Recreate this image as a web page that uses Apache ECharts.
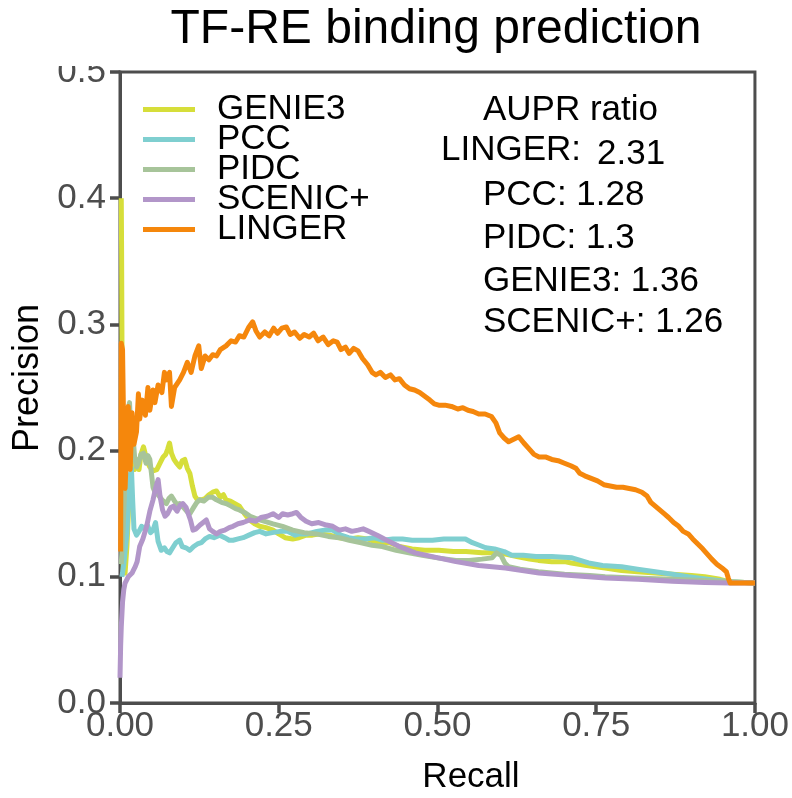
<!DOCTYPE html>
<html>
<head>
<meta charset="utf-8">
<script src="https://cdn.jsdelivr.net/npm/echarts@6/dist/echarts.min.js"></script>
<style>html,body{margin:0;padding:0;background:#fff;}#chart{width:792px;height:798px;}</style>
</head>
<body>
<div id="chart"></div>
<script>
// ---- data: [recall, precision] ----
const seriesNames = ['GENIE3', 'PCC', 'PIDC', 'SCENIC+', 'LINGER'];
const xTicks = [0, 0.25, 0.5, 0.75, 1.0];
const yTicks = [0, 0.1, 0.2, 0.3, 0.4, 0.5];
const auprTitle = 'AUPR ratio';
const auprNames = ['LINGER', 'PCC', 'PIDC', 'GENIE3', 'SCENIC+'];
const auprValues = ['2.31', '1.28', '1.3', '1.36', '1.26'];

const genie3 = [[0.002,0.40],[0.0025,0.36],[0.003,0.30],[0.004,0.15],[0.005,0.105],[0.008,0.103],[0.011,0.125],[0.014,0.16],[0.017,0.18],[0.020,0.19],[0.023,0.185],[0.026,0.193],[0.030,0.185],[0.033,0.197],[0.037,0.203],[0.041,0.195],[0.044,0.19],[0.047,0.187],[0.052,0.184],[0.058,0.185],[0.063,0.19],[0.068,0.195],[0.072,0.197],[0.075,0.201],[0.078,0.206],[0.081,0.198],[0.085,0.193],[0.089,0.19],[0.094,0.187],[0.098,0.192],[0.102,0.193],[0.106,0.186],[0.110,0.182],[0.114,0.172],[0.118,0.164],[0.122,0.161],[0.128,0.161],[0.134,0.162],[0.140,0.165],[0.146,0.167],[0.152,0.168],[0.158,0.163],[0.163,0.165],[0.167,0.161],[0.174,0.16],[0.181,0.158],[0.188,0.156],[0.196,0.15],[0.204,0.145],[0.212,0.142],[0.220,0.14],[0.230,0.139],[0.241,0.137],[0.250,0.134],[0.260,0.131],[0.272,0.130],[0.282,0.131],[0.293,0.133],[0.303,0.133],[0.315,0.134],[0.330,0.133],[0.345,0.131],[0.361,0.130],[0.375,0.131],[0.390,0.130],[0.405,0.127],[0.424,0.127],[0.440,0.124],[0.460,0.122],[0.480,0.121],[0.502,0.121],[0.525,0.120],[0.545,0.120],[0.570,0.119],[0.590,0.119],[0.607,0.118],[0.625,0.116],[0.645,0.114],[0.659,0.113],[0.680,0.112],[0.700,0.112],[0.711,0.111],[0.735,0.109],[0.764,0.107],[0.790,0.105],[0.815,0.104],[0.843,0.103],[0.870,0.102],[0.900,0.101],[0.921,0.100],[0.945,0.098],[0.960,0.096],[1.0,0.095]];

const pcc = [[0.003,0.10],[0.006,0.11],[0.009,0.125],[0.011,0.135],[0.013,0.16],[0.016,0.18],[0.018,0.186],[0.020,0.16],[0.022,0.138],[0.026,0.133],[0.030,0.136],[0.034,0.14],[0.038,0.138],[0.043,0.141],[0.048,0.135],[0.052,0.137],[0.056,0.143],[0.060,0.128],[0.065,0.121],[0.070,0.123],[0.074,0.12],[0.078,0.119],[0.083,0.123],[0.088,0.127],[0.094,0.129],[0.098,0.124],[0.104,0.123],[0.110,0.121],[0.116,0.124],[0.122,0.126],[0.128,0.127],[0.134,0.13],[0.141,0.132],[0.148,0.131],[0.157,0.133],[0.165,0.131],[0.172,0.129],[0.178,0.129],[0.186,0.13],[0.194,0.131],[0.203,0.133],[0.212,0.135],[0.220,0.136],[0.230,0.134],[0.240,0.135],[0.252,0.136],[0.264,0.136],[0.276,0.133],[0.283,0.134],[0.295,0.134],[0.310,0.136],[0.322,0.137],[0.335,0.137],[0.348,0.133],[0.360,0.131],[0.372,0.13],[0.387,0.13],[0.400,0.131],[0.413,0.129],[0.430,0.13],[0.445,0.13],[0.460,0.129],[0.475,0.129],[0.492,0.129],[0.510,0.13],[0.525,0.13],[0.544,0.13],[0.555,0.127],[0.566,0.125],[0.576,0.123],[0.590,0.122],[0.605,0.12],[0.617,0.117],[0.635,0.117],[0.655,0.116],[0.680,0.116],[0.712,0.115],[0.725,0.113],[0.738,0.111],[0.760,0.109],[0.790,0.108],[0.815,0.106],[0.843,0.104],[0.870,0.102],[0.895,0.100],[0.925,0.098],[0.960,0.096],[1.0,0.095]];

const pidc = [[0.002,0.11],[0.005,0.14],[0.008,0.18],[0.011,0.215],[0.013,0.232],[0.015,0.238],[0.017,0.215],[0.019,0.195],[0.021,0.208],[0.023,0.195],[0.026,0.187],[0.029,0.19],[0.033,0.197],[0.037,0.198],[0.041,0.19],[0.044,0.196],[0.047,0.193],[0.050,0.18],[0.052,0.171],[0.056,0.166],[0.060,0.165],[0.063,0.163],[0.068,0.16],[0.073,0.158],[0.077,0.162],[0.081,0.164],[0.086,0.16],[0.090,0.157],[0.094,0.158],[0.100,0.155],[0.105,0.152],[0.110,0.15],[0.116,0.155],[0.121,0.159],[0.126,0.161],[0.132,0.16],[0.139,0.163],[0.146,0.163],[0.152,0.161],[0.160,0.159],[0.167,0.158],[0.175,0.156],[0.182,0.154],[0.188,0.153],[0.196,0.151],[0.205,0.148],[0.215,0.146],[0.228,0.144],[0.241,0.142],[0.256,0.14],[0.272,0.137],[0.290,0.135],[0.309,0.134],[0.328,0.132],[0.345,0.131],[0.361,0.129],[0.380,0.127],[0.397,0.125],[0.413,0.124],[0.435,0.121],[0.455,0.119],[0.476,0.117],[0.500,0.115],[0.529,0.113],[0.550,0.113],[0.570,0.114],[0.586,0.115],[0.593,0.119],[0.600,0.117],[0.606,0.111],[0.612,0.108],[0.630,0.106],[0.659,0.104],[0.700,0.102],[0.740,0.101],[0.764,0.100],[0.810,0.099],[0.868,0.098],[0.920,0.097],[0.960,0.096],[1.0,0.095]];

const scenic = [[0.000,0.02],[0.001,0.045],[0.002,0.06],[0.004,0.08],[0.006,0.09],[0.008,0.095],[0.010,0.097],[0.013,0.1],[0.016,0.099],[0.019,0.103],[0.021,0.105],[0.024,0.108],[0.027,0.112],[0.031,0.124],[0.036,0.13],[0.042,0.14],[0.047,0.152],[0.052,0.161],[0.056,0.17],[0.060,0.177],[0.063,0.164],[0.067,0.153],[0.071,0.148],[0.075,0.15],[0.080,0.155],[0.084,0.156],[0.090,0.152],[0.095,0.157],[0.099,0.158],[0.104,0.155],[0.107,0.156],[0.111,0.145],[0.115,0.137],[0.120,0.138],[0.126,0.141],[0.131,0.143],[0.136,0.145],[0.141,0.138],[0.146,0.136],[0.152,0.134],[0.158,0.136],[0.165,0.137],[0.172,0.139],[0.178,0.14],[0.186,0.142],[0.194,0.143],[0.204,0.145],[0.214,0.144],[0.222,0.147],[0.232,0.148],[0.241,0.15],[0.250,0.147],[0.256,0.15],[0.264,0.149],[0.272,0.15],[0.278,0.151],[0.285,0.147],[0.293,0.144],[0.302,0.142],[0.313,0.143],[0.325,0.141],[0.335,0.14],[0.345,0.137],[0.355,0.138],[0.365,0.136],[0.375,0.137],[0.383,0.138],[0.392,0.136],[0.405,0.133],[0.420,0.129],[0.440,0.124],[0.465,0.119],[0.492,0.116],[0.529,0.112],[0.565,0.109],[0.607,0.107],[0.660,0.103],[0.711,0.101],[0.765,0.099],[0.816,0.098],[0.870,0.0965],[0.921,0.0955],[0.960,0.095],[1.0,0.095]];

const linger = [[0.001,0.12],[0.002,0.285],[0.004,0.28],[0.006,0.21],[0.008,0.17],[0.010,0.195],[0.013,0.235],[0.016,0.185],[0.019,0.23],[0.022,0.205],[0.026,0.215],[0.029,0.245],[0.031,0.225],[0.035,0.24],[0.040,0.228],[0.044,0.25],[0.047,0.232],[0.052,0.248],[0.055,0.238],[0.060,0.252],[0.066,0.246],[0.070,0.262],[0.073,0.256],[0.078,0.262],[0.081,0.235],[0.086,0.25],[0.094,0.256],[0.100,0.262],[0.106,0.27],[0.112,0.262],[0.118,0.275],[0.124,0.283],[0.128,0.265],[0.134,0.275],[0.140,0.272],[0.146,0.276],[0.152,0.275],[0.158,0.280],[0.167,0.283],[0.175,0.287],[0.182,0.286],[0.188,0.291],[0.195,0.29],[0.203,0.298],[0.209,0.302],[0.214,0.295],[0.220,0.29],[0.228,0.294],[0.235,0.291],[0.242,0.297],[0.248,0.293],[0.255,0.297],[0.262,0.298],[0.268,0.292],[0.275,0.294],[0.283,0.289],[0.290,0.292],[0.298,0.29],[0.305,0.293],[0.312,0.287],[0.320,0.29],[0.328,0.284],[0.336,0.287],[0.342,0.286],[0.348,0.28],[0.355,0.282],[0.361,0.277],[0.368,0.281],[0.375,0.279],[0.382,0.273],[0.390,0.268],[0.397,0.262],[0.403,0.26],[0.410,0.262],[0.418,0.258],[0.426,0.26],[0.433,0.256],[0.440,0.257],[0.448,0.252],[0.456,0.249],[0.464,0.248],[0.472,0.246],[0.480,0.243],[0.488,0.24],[0.495,0.237],[0.502,0.236],[0.512,0.236],[0.522,0.235],[0.532,0.233],[0.540,0.234],[0.548,0.232],[0.556,0.231],[0.565,0.229],[0.575,0.229],[0.585,0.227],[0.592,0.222],[0.598,0.214],[0.605,0.21],[0.612,0.207],[0.620,0.209],[0.628,0.211],[0.636,0.206],[0.645,0.201],[0.652,0.197],[0.660,0.195],[0.670,0.195],[0.680,0.193],[0.690,0.192],[0.700,0.190],[0.710,0.188],[0.718,0.186],[0.724,0.182],[0.732,0.180],[0.742,0.178],[0.752,0.176],[0.762,0.173],[0.772,0.172],[0.782,0.171],[0.792,0.171],[0.802,0.170],[0.812,0.169],[0.822,0.167],[0.830,0.164],[0.836,0.159],[0.843,0.156],[0.850,0.153],[0.857,0.150],[0.864,0.147],[0.872,0.143],[0.880,0.140],[0.887,0.136],[0.895,0.134],[0.902,0.13],[0.910,0.126],[0.918,0.122],[0.925,0.118],[0.932,0.114],[0.940,0.11],[0.948,0.107],[0.955,0.104],[0.958,0.099],[0.961,0.095],[1.0,0.095]];

const seriesData = [genie3, pcc, pidc, scenic, linger];
const colors = ['#d6de3a', '#7fcfd0', '#a7c49a', '#b296c9', '#f5870c'];

// ---- chart ----
const FONT = '"Liberation Sans", Arial, sans-serif';
const AX = '#4d4d4d';
const chart = echarts.init(document.getElementById('chart'), null, {renderer: 'canvas'});

const textStyle = (t) => ({text: t, font: '35px ' + FONT, fill: '#000', verticalAlign: 'middle', align: 'left'});
const auprGraphics = [{type: 'text', x: 483, y: 110, z: 100, style: textStyle(auprTitle)}];
const auprRowsY = [150, 195, 238, 281, 322];
auprNames.forEach((n, i) => {
  if (i === 0) {
    auprGraphics.push({type: 'text', x: 441, y: auprRowsY[i], z: 100, style: textStyle(n + ':')});
    auprGraphics.push({type: 'text', x: 597, y: auprRowsY[i] + 4, z: 100, style: textStyle(auprValues[i])});
  } else {
    auprGraphics.push({type: 'text', x: 483, y: auprRowsY[i], z: 100, style: textStyle(n + ': ' + auprValues[i])});
  }
});

chart.setOption({
  backgroundColor: '#fff',
  animation: false,
  title: {
    text: 'TF-RE binding prediction',
    left: 436, textAlign: 'center', top: 6, padding: 0,
    textStyle: {fontFamily: FONT, fontSize: 48, fontWeight: 'normal', color: '#000'}
  },
  grid: {left: 120, right: 34, top: 72, bottom: 95, show: true, borderColor: AX, borderWidth: 3, backgroundColor: 'transparent'},
  legend: {
    data: seriesNames, orient: 'vertical', left: 138, top: 87,
    itemGap: -5, itemWidth: 52, itemHeight: 5, icon: 'rect',
    textStyle: {fontFamily: FONT, fontSize: 35, color: '#000', padding: [0, 0, 0, 17]}
  },
  xAxis: {
    type: 'value', min: xTicks[0], max: xTicks[xTicks.length - 1], interval: 0.25,
    axisLine: {show: true, lineStyle: {color: AX, width: 3}},
    axisTick: {show: true, length: 10, lineStyle: {color: AX, width: 3.5}},
    axisLabel: {fontFamily: FONT, fontSize: 35, color: AX, margin: 6, formatter: v => v.toFixed(2), showMaxLabel: true, showMinLabel: true},
    splitLine: {show: false}
  },
  yAxis: {
    type: 'value', min: yTicks[0], max: yTicks[yTicks.length - 1], interval: 0.1,
    axisLine: {show: true, lineStyle: {color: AX, width: 3}},
    axisTick: {show: true, length: 10, lineStyle: {color: AX, width: 3.5}},
    axisLabel: {fontFamily: FONT, fontSize: 35, color: AX, margin: 14, formatter: v => v.toFixed(1)},
    splitLine: {show: false}
  },
  series: seriesNames.map((n, i) => ({
    name: n, type: 'line', data: seriesData[i], showSymbol: false, symbol: 'none',
    lineStyle: {color: colors[i], width: 5, join: 'round'}, itemStyle: {color: colors[i]},
    z: 2 + i
  })),
  graphic: [
    {type: 'rect', left: 0, top: 0, z: 100, shape: {width: 112, height: 66}, style: {fill: '#fff'}},
    {type: 'text', x: 471, y: 777, z: 100, style: {text: 'Recall', font: '35px ' + FONT, fill: '#000', align: 'center', verticalAlign: 'middle'}},
    {type: 'text', x: 28, y: 378, rotation: Math.PI / 2, z: 100, style: {text: 'Precision', font: '36px ' + FONT, fill: '#000', align: 'center', verticalAlign: 'middle'}}
  ].concat(auprGraphics)
});
</script>
</body>
</html>
